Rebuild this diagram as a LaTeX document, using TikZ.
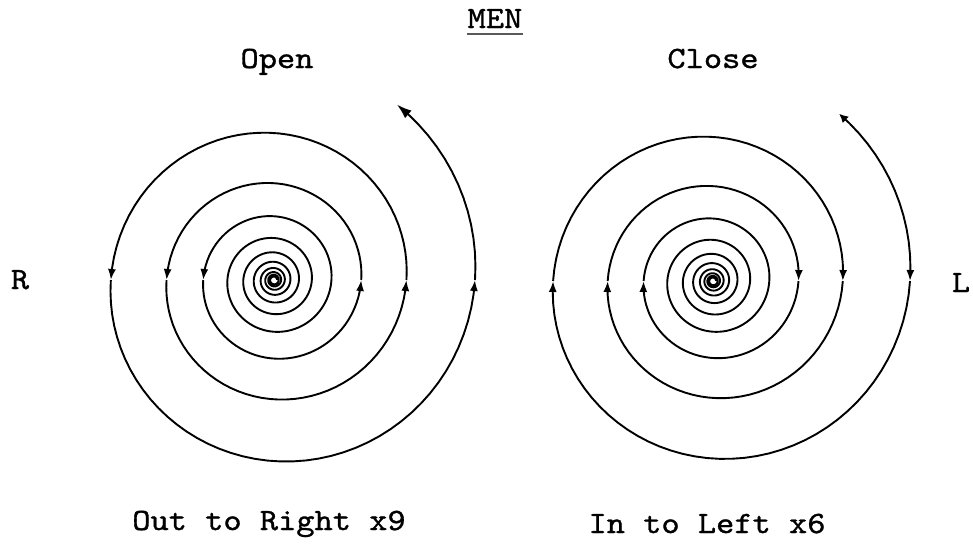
\documentclass[tikz,border=0pt]{standalone}
\usepackage{fontspec}
\setmonofont{lmmono10-regular}[Extension = .otf, FakeStretch = 1.12, FakeBold = 1]
\usetikzlibrary{arrows.meta}

\begin{document}
\begin{tikzpicture}[
        x = 0.5pt, y = -0.5pt,
        line width = 0.95pt,
        >= {Latex[length = 5.5pt, width = 4pt]},
        declare function = {spirad(\t,\s) = \s*exp(0.001164*(\t-360));},
        every node/.style = {font = \ttfamily\fontsize{15.5}{18}\selectfont, inner sep = 0pt, anchor = base},
        endtip/.style = {-{Latex[length = 7.5pt, width = 5pt]}}
    ]

        \useasboundingbox (0,0) rectangle (973,553);

        % labels
        \node (men) at (495,28) {MEN};
        \draw[black!65, line width = 1pt] ([yshift = -3pt]men.base west) -- ([yshift = -3pt]men.base east);
        \node (open) at (277,68) {Open};
        \node (close) at (713,68) {Close};
        \node (r) at (20,289) {R};
        \node (l) at (961,292) {L};
        \node (outr) at (269,530) {Out to Right x9};
        \node (inl) at (707,533) {In to Left x6};

        % open: outward spiral
        \foreach \a/\b/\n in {-3240/-540/680, -540/-360/46, -360/-180/46, -180/0/46, 0/180/46, 180/360/46}
            \draw[->] plot[domain = \a:\b, samples = \n, variable = \t]
                ({274 + spirad(\t,201)*cos(\t)}, {280 - spirad(\t,201)*sin(\t)});
        \draw[endtip] plot[domain = 360:415, samples = 15, variable = \t]
            ({274 + spirad(\t,201)*cos(\t)}, {280 - spirad(\t,201)*sin(\t)});

        % close: inward spiral
        \draw plot[domain = -3240:-540, samples = 680, variable = \t]
            ({713 + spirad(\t,197)*cos(\t)}, {281 - spirad(\t,197)*sin(\t)});
        \foreach \a/\b in {-540/-360, -360/-180, -180/0, 0/180, 180/360}
            \draw[<-] plot[domain = \a:\b, samples = 46, variable = \t]
                ({713 + spirad(\t,197)*cos(\t)}, {281 - spirad(\t,197)*sin(\t)});
        \draw[<-{Latex[length = 4.5pt, width = 4.5pt]}] plot[domain = 360:413, samples = 15, variable = \t]
            ({713 + spirad(\t,197)*cos(\t)}, {281 - spirad(\t,197)*sin(\t)});

\end{tikzpicture}
\end{document}
